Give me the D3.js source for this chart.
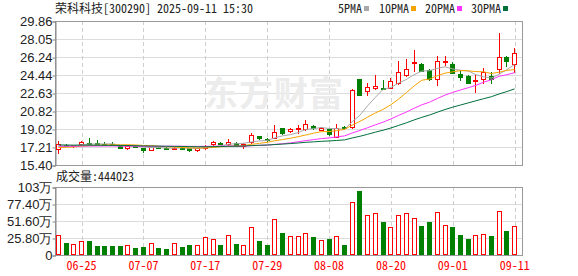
<!DOCTYPE html>
<html>
<head>
<meta charset="utf-8">
<script src="https://cdn.jsdelivr.net/npm/d3@7"></script>
<style>
  body { margin: 0; background: #fff; }
  svg { display: block; }
  .mono { font-family: "Noto Sans Mono CJK SC", "Noto Sans CJK SC", "DejaVu Sans Mono", monospace; font-size: 12px; }
  .axis text { font-family: "Liberation Sans", Arial, sans-serif; font-size: 13px; fill: #222; }
  .axis line, .axis path { stroke: #888; }
</style>
</head>
<body>
<svg id="chart"></svg>
<script>
// trading days shown (60 bars)
const dates = ['06-20','06-23','06-24','06-25','06-26','06-27','06-30','07-01','07-02','07-03',
  '07-04','07-07','07-08','07-09','07-10','07-11','07-14','07-15','07-16','07-17',
  '07-18','07-21','07-22','07-23','07-24','07-25','07-28','07-29','07-30','07-31',
  '08-01','08-04','08-05','08-06','08-07','08-08','08-11','08-12','08-13','08-14',
  '08-15','08-18','08-19','08-20','08-21','08-22','08-25','08-26','08-27','08-28',
  '08-29','09-01','09-02','09-03','09-04','09-05','09-08','09-09','09-10','09-11'];

const open = [17.00,17.45,17.26,17.48,17.64,17.58,17.55,17.52,17.41,17.08,
  17.33,17.08,16.90,17.20,17.15,17.05,17.15,17.08,16.88,17.08,
  17.48,17.62,17.48,17.64,17.30,17.70,18.31,18.04,18.14,19.08,
  18.81,19.05,19.02,19.32,18.92,19.02,18.24,19.25,19.25,24.01,
  22.86,23.10,23.16,23.16,23.60,24.40,25.62,25.51,24.94,24.01,
  25.74,25.58,24.54,24.34,23.90,24.01,24.34,25.01,26.28,25.51];
const high = [17.83,17.52,17.45,17.78,18.08,17.88,17.72,17.70,17.45,17.33,
  17.38,17.12,17.25,17.25,17.20,17.22,17.20,17.10,17.15,17.41,
  17.76,17.66,18.01,17.70,17.62,18.58,18.35,18.10,19.42,19.10,
  19.10,19.42,19.92,19.40,19.20,19.05,19.49,19.35,23.00,24.05,
  23.60,24.44,23.90,24.18,25.89,26.03,26.95,25.60,25.00,26.34,
  26.34,25.70,24.94,24.40,24.44,25.11,24.77,28.69,26.34,27.12];
const low = [16.57,17.35,17.22,17.45,17.48,17.46,17.42,17.40,17.10,17.05,
  17.20,16.74,16.88,17.08,17.00,17.00,17.05,16.78,16.85,17.05,
  17.45,17.50,17.45,17.30,17.10,17.65,18.00,17.85,18.10,18.55,
  18.75,18.64,18.95,19.05,18.90,18.40,18.20,19.00,19.08,22.40,
  22.43,23.05,23.00,23.10,23.55,24.30,24.80,24.80,23.90,23.43,
  25.44,24.60,23.94,23.60,22.76,23.61,23.61,24.61,25.38,24.77];
const close = [17.48,17.40,17.40,17.74,17.51,17.48,17.45,17.44,17.14,17.31,
  17.25,16.88,17.21,17.12,17.05,17.15,17.10,16.94,17.11,17.31,
  17.74,17.55,17.74,17.34,17.55,18.41,18.08,17.91,18.68,18.58,
  18.98,19.12,19.49,19.09,19.15,18.48,19.08,19.08,22.93,22.43,
  23.26,23.33,23.03,23.84,24.71,25.04,25.72,24.87,24.03,25.84,
  25.84,24.64,24.21,23.67,23.97,24.77,24.01,26.22,25.88,26.62];

// volume in 万 shares
const volume = [29.7,18.1,16.1,20.6,21.1,13.6,13.6,13.6,13.6,14.6,
  10.6,12.1,17.6,10.6,9.1,17.6,12.1,15.1,14.6,26.7,
  23.7,15.1,29.7,16.6,14.6,41.8,21.1,15.1,53.9,33.2,
  28.2,29.5,32.7,27.2,22.1,24.2,28.2,15.1,81.0,96.7,
  61.4,64.4,49.8,41.8,61.4,64.4,56.9,43.8,49.8,65.9,
  44.8,42.3,30.2,24.2,29.7,31.2,28.7,67.5,36.2,44.4023];

// closes before the window, only used so the moving averages start at the left edge
const prevCloses = [17.80,17.70,17.60,17.75,17.65,17.60,17.70,17.55,17.60,17.65,
  17.50,17.55,17.40,17.45,17.50,17.40,17.35,17.50,17.45,17.40,
  17.10,17.00,17.05,17.00,17.10,17.15,17.20,17.25,17.12];

const priceTicks = [15.40,17.21,19.02,20.82,22.63,24.44,26.24,28.05,29.86];
const volTicks = [0,25.8,51.6,77.4,103.2];
const volTickLabels = ['0','25.80万','51.60万','77.40万','103万'];
const dateTicks = ['06-25','07-07','07-17','07-29','08-08','08-20','09-01','09-11'];
const maPeriods = [5,10,20,30];
const maNames = ['5PMA','10PMA','20PMA','30PMA'];
const maColors = ['#a8a8a8','#f5a300','#ff33ff','#006f3a'];

const W = 578, H = 276;
const plotL = 55, plotR = 522;
const priceTop = 21, priceBot = 165;
const volTop = 187, volBot = 255;
const UP = '#ff0000', DOWN = '#008000';
const N = dates.length;

const svg = d3.select('#chart').attr('width', W).attr('height', H);
svg.append('rect').attr('width', W).attr('height', H).attr('fill', '#fff');

const x = d3.scaleBand().domain(d3.range(N)).range([54.5, 518.5]);
const cx = i => x(i) + x.bandwidth() / 2;
const yP = d3.scaleLinear().domain([15.40, 29.86]).range([priceBot, priceTop]);
const yV = d3.scaleLinear().domain([0, 103.2]).range([volBot, volTop]);

const tickIdx = dateTicks.map(d => dates.indexOf(d));

// horizontal grid
svg.append('g').selectAll('line').data(priceTicks).join('line')
  .attr('x1', plotL).attr('x2', plotR)
  .attr('y1', d => Math.round(yP(d)) + 0.5).attr('y2', d => Math.round(yP(d)) + 0.5)
  .attr('stroke', '#dcdcdc');
svg.append('g').selectAll('line').data(volTicks).join('line')
  .attr('x1', plotL).attr('x2', plotR)
  .attr('y1', d => Math.round(yV(d)) + 0.5).attr('y2', d => Math.round(yV(d)) + 0.5)
  .attr('stroke', '#dcdcdc');

// vertical dashed grid at date ticks
[[priceTop, priceBot], [volTop, volBot]].forEach(([t, b]) => {
  svg.append('g').selectAll('line').data(tickIdx).join('line')
    .attr('x1', i => Math.round(cx(i)) + 0.5).attr('x2', i => Math.round(cx(i)) + 0.5)
    .attr('y1', t).attr('y2', b)
    .attr('stroke', '#cfcfcf').attr('stroke-dasharray', '4,3');
});

// watermark
svg.append('text')
  .attr('x', 204).attr('y', 106)
  .attr('font-family', '"Noto Sans CJK SC", sans-serif')
  .attr('font-size', 34).attr('font-weight', 'bold')
  .attr('letter-spacing', 1)
  .attr('fill', '#ececec')
  .text('东方财富');

// frames
svg.append('rect').attr('x', plotL + 0.5).attr('y', priceTop + 0.5)
  .attr('width', plotR - plotL).attr('height', priceBot - priceTop)
  .attr('fill', 'none').attr('stroke', '#999');
svg.append('rect').attr('x', plotL + 0.5).attr('y', volTop + 0.5)
  .attr('width', plotR - plotL).attr('height', volBot - volTop)
  .attr('fill', 'none').attr('stroke', '#999');

// axes
const yAxis = d3.axisLeft(yP).tickValues(priceTicks).tickFormat(d3.format('.2f'))
  .tickSize(3).tickPadding(0);
svg.append('g').attr('class', 'axis').attr('transform', `translate(${plotL + 0.5},0.5)`).call(yAxis);

const vAxis = d3.axisLeft(yV).tickValues(volTicks).tickFormat((d, i) => volTickLabels[i])
  .tickSize(3).tickPadding(0);
svg.append('g').attr('class', 'axis').attr('transform', `translate(${plotL + 0.5},0.5)`).call(vAxis);

const xAxis = d3.axisBottom(x).tickValues(tickIdx).tickFormat(i => dates[i])
  .tickSize(0).tickPadding(6.5);
const xg = svg.append('g').attr('transform', `translate(0,${volBot})`).call(xAxis);
xg.select('.domain').remove();
xg.selectAll('text').attr('class', 'mono').attr('fill', UP);

// candles
const isUp = i => close[i] >= open[i];
const cg = svg.append('g');
d3.range(N).forEach(i => {
  const x0 = Math.round(cx(i) - 2.5);
  const col = isUp(i) ? UP : DOWN;
  cg.append('line')
    .attr('x1', x0 + 2.5).attr('x2', x0 + 2.5)
    .attr('y1', Math.round(yP(high[i]))).attr('y2', Math.round(yP(low[i])) + 1)
    .attr('stroke', col);
  const yt = Math.round(yP(Math.max(open[i], close[i])));
  const yb = Math.round(yP(Math.min(open[i], close[i])));
  if (isUp(i)) {
    cg.append('rect').attr('x', x0 + 0.5).attr('y', yt + 0.5)
      .attr('width', 4).attr('height', Math.max(yb - yt, 1))
      .attr('fill', '#fff').attr('stroke', col);
  } else {
    cg.append('rect').attr('x', x0).attr('y', yt)
      .attr('width', 5).attr('height', Math.max(yb - yt, 1) + 1)
      .attr('fill', col);
  }
});

// moving averages
const allCloses = prevCloses.concat(close);
const off = prevCloses.length;
maPeriods.forEach((p, k) => {
  const ma = d3.range(N).map(i => d3.mean(allCloses.slice(off + i - p + 1, off + i + 1)));
  svg.append('path')
    .datum(ma)
    .attr('fill', 'none')
    .attr('stroke', maColors[k])
    .attr('stroke-width', 1)
    .attr('d', d3.line().x((d, i) => cx(i)).y(d => yP(d)));
});

// volume bars
const vg = svg.append('g');
d3.range(N).forEach(i => {
  const x0 = Math.round(cx(i) - 2.5);
  const yt = Math.round(yV(volume[i]));
  if (isUp(i)) {
    vg.append('rect').attr('x', x0 + 0.5).attr('y', yt + 0.5)
      .attr('width', 4).attr('height', volBot - yt - 1)
      .attr('fill', '#fff').attr('stroke', UP);
  } else {
    vg.append('rect').attr('x', x0).attr('y', yt)
      .attr('width', 5).attr('height', volBot - yt)
      .attr('fill', DOWN);
  }
});

// title + legend
svg.append('text').attr('class', 'mono').attr('x', 55).attr('y', 13).attr('fill', '#222')
  .text('荣科科技[300290] 2025-09-11 15:30');

const legX = [338, 379, 425, 471];
maNames.forEach((n, k) => {
  const t = svg.append('text').attr('class', 'mono').attr('x', legX[k]).attr('y', 13)
    .attr('fill', '#222').text(n);
  const w = t.node().getComputedTextLength();
  svg.append('rect').attr('x', legX[k] + w + 2).attr('y', 6).attr('width', 5).attr('height', 5)
    .attr('fill', maColors[k]);
});

svg.append('text').attr('class', 'mono').attr('x', 56).attr('y', 181).attr('fill', '#222')
  .text('成交量:' + Math.round(volume[N - 1] * 10000));
</script>
</body>
</html>
